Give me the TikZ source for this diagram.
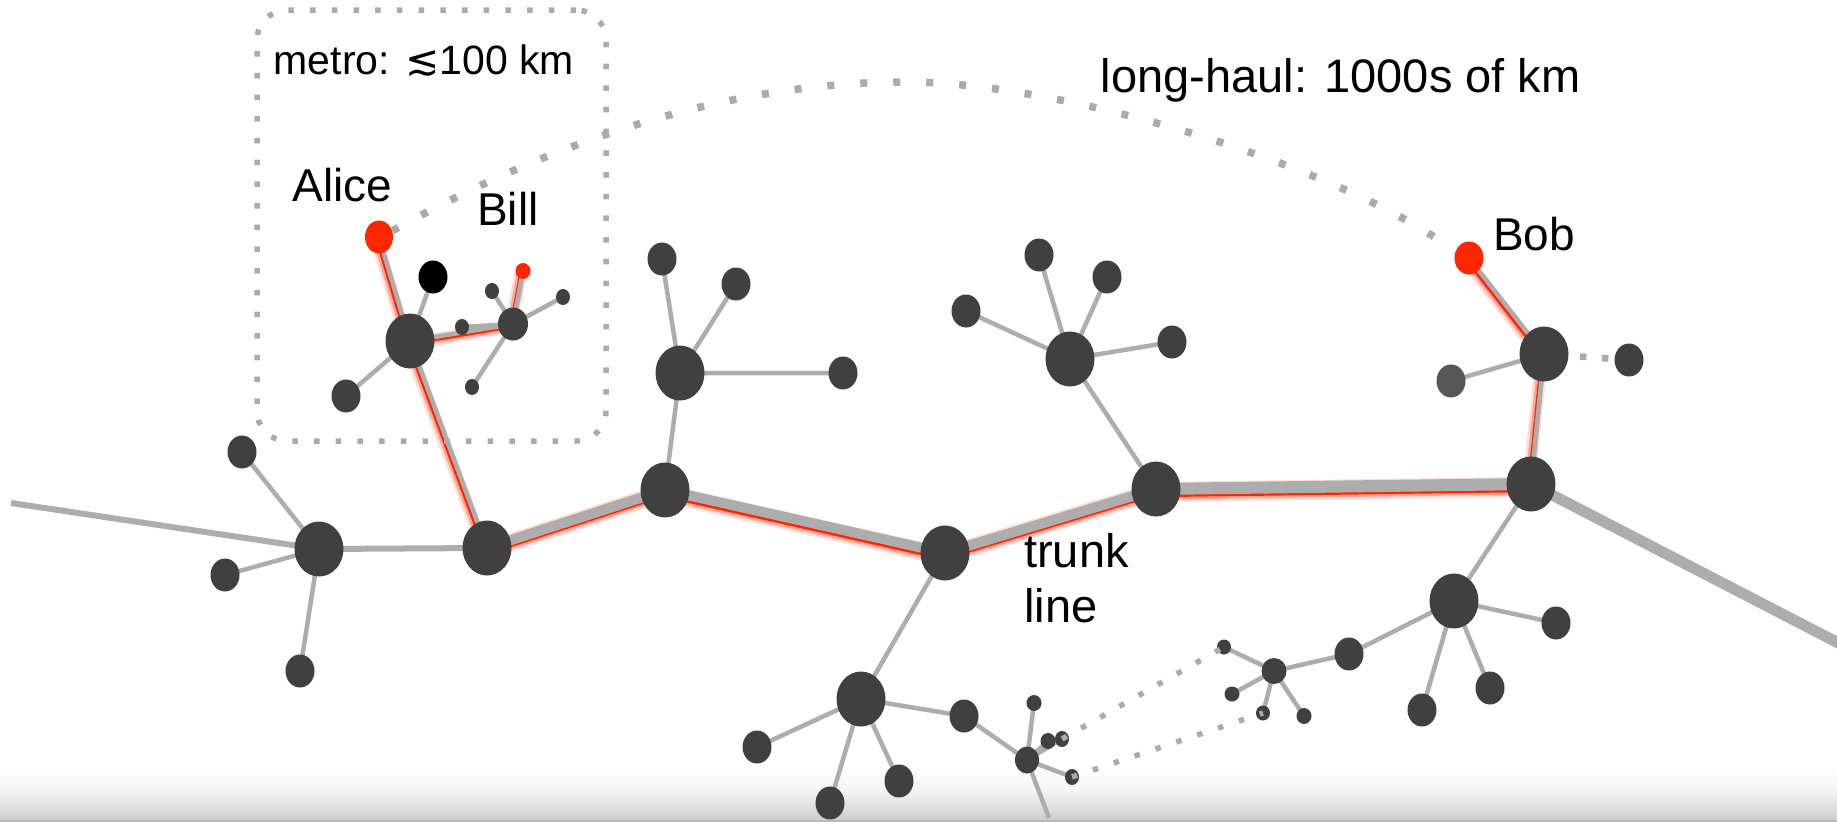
\documentclass[tikz,border=0pt]{standalone}
\usepackage{fontspec}
\setmainfont{Liberation Sans}
\newfontfamily\symfont{DejaVu Sans}
\usetikzlibrary{shapes.geometric}
\pgfdeclarelayer{bg}
\pgfdeclarelayer{glow}
\pgfdeclarelayer{edges}
\pgfsetlayers{bg,glow,edges,main}

\definecolor{nodegray}{HTML}{404040}
\definecolor{softgray}{HTML}{575757}
\definecolor{linegray}{HTML}{ADADAD}
\definecolor{dotgray}{HTML}{ABABAB}
\definecolor{hotred}{HTML}{FF2600}

% red halo under a highlighted link: #1 line width, #2/#3 end nodes
\newcommand\hotlink[3]{%
  \draw[hotred, opacity=.15, line width=#1+8pt,
        transform canvas={shift={(-2.5pt,-3pt)}}] (#2.center) -- (#3.center);
  \draw[hotred, opacity=.3, line width=#1+4pt,
        transform canvas={shift={(-2pt,-2.6pt)}}] (#2.center) -- (#3.center);
  \draw[hotred, line width=#1,
        transform canvas={shift={(-1.5pt,-2.2pt)}}] (#2.center) -- (#3.center);}

\begin{document}
\begin{tikzpicture}[x=1pt,y=-1pt,
  big/.style={ellipse, fill=nodegray, inner sep=0, minimum width=49pt, minimum height=55pt},
  mid/.style={ellipse, fill=nodegray, inner sep=0, minimum width=29pt, minimum height=33pt},
  hubs/.style={ellipse, fill=nodegray, inner sep=0, minimum width=24pt, minimum height=26pt},
  sml/.style={ellipse, fill=nodegray, inner sep=0, minimum width=14pt, minimum height=16pt},
  wire/.style={draw=linegray, line width=4.5pt},
  wiremed/.style={draw=linegray, line width=6pt},
  trunk/.style={draw=linegray, line width=10pt},
  trunkwide/.style={draw=linegray, line width=12pt},
  boxdots/.style={draw=dotgray, line width=5.5pt, dash pattern=on 5.5pt off 16.2pt},
  curvedots/.style={draw=dotgray, line width=7.5pt, dash pattern=on 7pt off 26pt},
  linkdots/.style={draw=dotgray, line width=5.5pt, dash pattern=on 5.5pt off 16.5pt},
  lbl/.style={inner sep=0, anchor=base west, font=\fontsize{46pt}{50pt}\selectfont},
  biglbl/.style={inner sep=0, anchor=base west, font=\fontsize{47pt}{55pt}\selectfont},
  metrolbl/.style={inner sep=0, anchor=base west, font=\fontsize{41pt}{46pt}\selectfont}]

\useasboundingbox (0,0) rectangle (1837,822);
\clip (0,0) rectangle (1837,822);

% floor shading along the bottom edge
\begin{pgfonlayer}{bg}
  \fill[white] (0,0) rectangle (1837,822);
  \shade[top color=white, bottom color=black!4] (0,765) rectangle (1837,790);
  \shade[top color=black!4, bottom color=black!13] (0,790) rectangle (1837,808);
  \shade[top color=black!13, bottom color=black!20] (0,808) rectangle (1837,820);
  \fill[black!27] (0,820) rectangle (1837,822);
\end{pgfonlayer}

% trunk nodes
\node[big] (hubL) at (319,549) {};
\node[big] (T1) at (487,548) {};
\node[big] (T2) at (665,490) {};
\node[big] (T3) at (945,553) {};
\node[big] (T4) at (1156,489) {};
\node[big] (T5) at (1531,484) {};
\coordinate (leftEnd) at (11,503);
\coordinate (rightEnd) at (1850,649);

% far-left cluster
\node[mid] (nL1) at (242,452) {};
\node[mid] (nL2) at (225,575) {};
\node[mid] (nL3) at (300,671) {};

% metro cluster
\node[big] (hubA) at (410,341) {};
\node[mid, fill=hotred, minimum width=28pt] (alice) at (379,237) {};
\node[mid, fill=black] (blk) at (433,277) {};
\node[mid] (nA1) at (346,396) {};
\node[mid, minimum width=30pt] (hubB) at (513,324) {};
\node[sml, fill=hotred, minimum width=15pt] (bill) at (523,271) {};
\node[sml] (nB1) at (492,291) {};
\node[sml] (nB2) at (563,297) {};
\node[sml] (nB3) at (462,327) {};
\node[sml] (nB4) at (472,387) {};

% upper branches
\node[big] (U1) at (680,373) {};
\node[mid] (u1a) at (662,259) {};
\node[mid] (u1b) at (736,284) {};
\node[mid] (u1c) at (843,373) {};
\node[big] (U2) at (1070,359) {};
\node[mid] (u2a) at (966,311) {};
\node[mid] (u2b) at (1039,255) {};
\node[mid] (u2c) at (1107,277) {};
\node[mid] (u2d) at (1172,342) {};

% lower-middle branch
\node[big] (B1) at (861,699) {};
\node[mid] (b1a) at (757,747) {};
\node[mid] (b1b) at (830,803) {};
\node[mid] (b1c) at (899,781) {};
\node[mid] (b1d) at (964,716) {};
\node[hubs, minimum height=27pt] (S1) at (1027,760) {};
\node[sml, minimum width=15pt] (s1a) at (1034,703) {};
\node[sml, minimum width=15pt] (s1b) at (1048,741) {};
\node[sml] (s1c) at (1062,739) {};
\node[sml] (s1d) at (1072,777) {};
\coordinate (bottomEnd) at (1049,818);

% right side
\node[big] (R1) at (1544,354) {};
\node[mid, fill=hotred] (bob) at (1469,258) {};
\node[mid, fill=softgray] (r1a) at (1451,381) {};
\node[mid] (r1b) at (1629,360) {};
\node[big] (R2) at (1454,601) {};
\node[mid] (r2a) at (1556,623) {};
\node[mid] (r2b) at (1490,688) {};
\node[mid] (r2c) at (1422,710) {};
\node[mid] (r2d) at (1349,654) {};
\node[hubs, minimum width=25pt] (S2) at (1274,671) {};
\node[sml, minimum height=15pt] (s2a) at (1224,647) {};
\node[sml, minimum width=15pt, minimum height=15pt] (s2b) at (1232,694) {};
\node[sml, minimum height=15pt] (s2c) at (1263,713) {};
\node[sml, minimum width=15pt] (s2d) at (1304,716) {};

% highlighted route Alice -> Bob (and Bill)
\begin{pgfonlayer}{glow}
  \hotlink{4.5pt}{alice}{hubA}
  \hotlink{4.5pt}{hubA}{T1}
  \hotlink{4.5pt}{hubA}{hubB}
  \hotlink{4.5pt}{hubB}{bill}
  \hotlink{10pt}{T1}{T2}
  \hotlink{10pt}{T2}{T3}
  \hotlink{10pt}{T3}{T4}
  \hotlink{12pt}{T4}{T5}
  \hotlink{4.5pt}{T5}{R1}
  \hotlink{4.5pt}{R1}{bob}
\end{pgfonlayer}

\begin{pgfonlayer}{edges}
  % backbone
  \draw[wiremed] (leftEnd) -- (hubL.center);
  \draw[wiremed] (hubL.center) -- (T1.center);
  \draw[trunk] (T1.center) -- (T2.center);
  \draw[trunk] (T2.center) -- (T3.center);
  \draw[trunk] (T3.center) -- (T4.center);
  \draw[trunkwide] (T4.center) -- (T5.center);
  \draw[line width=11pt, draw=linegray] (T5.center) -- (rightEnd);
  % spurs
  \draw[wire] (hubL.center) -- (nL1.center) (hubL.center) -- (nL2.center)
              (hubL.center) -- (nL3.center);
  \draw[wire] (alice.center) -- (hubA.center) (hubA.center) -- (T1.center)
              (hubA.center) -- (blk.center) (hubA.center) -- (nA1.center)
              (hubA.center) -- (hubB.center) (hubB.center) -- (bill.center);
  \draw[wire] (hubB.center) -- (nB1.center) (hubB.center) -- (nB2.center)
              (hubB.center) -- (nB3.center) (hubB.center) -- (nB4.center);
  \draw[wire] (T2.center) -- (U1.center) (U1.center) -- (u1a.center)
              (U1.center) -- (u1b.center) (U1.center) -- (u1c.center);
  \draw[wire] (T4.center) -- (U2.center) (U2.center) -- (u2a.center)
              (U2.center) -- (u2b.center) (U2.center) -- (u2c.center)
              (U2.center) -- (u2d.center);
  \draw[wire] (T3.center) -- (B1.center) (B1.center) -- (b1a.center)
              (B1.center) -- (b1b.center) (B1.center) -- (b1c.center)
              (B1.center) -- (b1d.center) (b1d.center) -- (S1.center);
  \draw[wire] (S1.center) -- (s1a.center) (S1.center) -- (s1b.center)
              (S1.center) -- (s1c.center) (S1.center) -- (s1d.center)
              (S1.center) -- (bottomEnd);
  \draw[wire] (T5.center) -- (R1.center) (R1.center) -- (bob.center)
              (R1.center) -- (r1a.center);
  \draw[wire] (T5.center) -- (R2.center) (R2.center) -- (r2a.center)
              (R2.center) -- (r2b.center) (R2.center) -- (r2c.center)
              (R2.center) -- (r2d.center) (r2d.center) -- (S2.center);
  \draw[wire] (S2.center) -- (s2a.center) (S2.center) -- (s2b.center)
              (S2.center) -- (s2c.center) (S2.center) -- (s2d.center);
  \draw[linkdots, line width=6.5pt, dash pattern=on 6.5pt off 15.5pt, dash phase=-14pt]
              (R1.center) -- (r1b.center);
\end{pgfonlayer}

% metro area outline
\node[boxdots, rounded corners=30pt, minimum width=349pt, minimum height=431pt,
      inner sep=0] (metro) at (431.5,225.5) {};

% long-haul link between Alice and Bob
\draw[curvedots] (alice.25) .. controls (520,160) and (700,82) .. (907,82)
                 .. controls (1060,82) and (1340,165) .. (bob.155);

% links between the two small clusters at the bottom
\draw[linkdots] (s1c.center) -- (s2a.center);
\draw[linkdots] (s1d.center) -- (s2c.center);

% labels
\node[metrolbl] (metrotxt) at (273.5,74) {metro: {\symfont ≲}100 km};
\node[lbl] (alicetxt) at (292.5,201.7) {Alice};
\node[lbl] (billtxt) at (477,225) {Bill};
\node[lbl] (bobtxt) at (1493,250) {Bob};
\node[biglbl] (hault) at (1100.5,92) {long-haul: 1000s of km};
\node[biglbl] (trunktxt) at (1024,567) {trunk};
\node[biglbl] (linetxt) at (1024,622) {line};
\end{tikzpicture}
\end{document}
